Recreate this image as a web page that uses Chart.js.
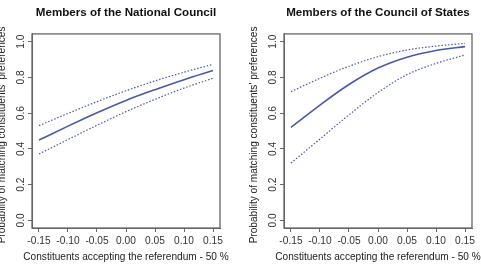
<!DOCTYPE html>
<html>
<head>
<meta charset="utf-8">
<script src="https://cdn.jsdelivr.net/npm/chart.js@4.4.1/dist/chart.umd.min.js"></script>
<style>
    html, body { margin: 0; padding: 0; background: #fff; overflow: hidden; }
    #wrap { position: relative; width: 481px; height: 265px; overflow: hidden; }
    canvas { position: absolute; top: 0; }
    #nc { left: -12px; }
    #cs { left: 240px; }
</style>
</head>
<body>
<div id="wrap">
    <canvas id="nc" width="241" height="265"></canvas>
    <canvas id="cs" width="241" height="265"></canvas>
</div>
<script>
(function () {
    'use strict';

    // x: constituents accepting the referendum minus 50 %
    const xVals = [-0.15, -0.10, -0.05, 0.00, 0.05, 0.10, 0.15];
    const xTicks = [-0.15, -0.10, -0.05, 0.00, 0.05, 0.10, 0.15];
    const yTicks = [0.0, 0.2, 0.4, 0.6, 0.8, 1.0];

    const xTitle = 'Constituents accepting the referendum - 50 %';
    const yTitle = "Probability of matching constituents' preferences";

    // National Council: predicted probability + bounds
    const ncMean = [0.449, 0.527, 0.602, 0.671, 0.731, 0.787, 0.838];
    const ncUpper = [0.53, 0.598, 0.664, 0.725, 0.78, 0.829, 0.873];
    const ncLower = [0.371, 0.452, 0.532, 0.608, 0.677, 0.74, 0.795];

    // Council of States
    const csMean = [0.52, 0.645, 0.76, 0.852, 0.913, 0.95, 0.972];
    const csUpper = [0.72, 0.795, 0.862, 0.916, 0.953, 0.975, 0.99];
    const csLower = [0.32, 0.455, 0.59, 0.715, 0.815, 0.878, 0.925];

    const font = "'Liberation Sans', Arial, Helvetica, sans-serif";
    const lineColor = '#4b58a8';
    const frameColor = '#666666';

    Chart.defaults.font.family = font;
    Chart.defaults.color = '#333333';

    // box round the plot + axis titles (scale titles get squeezed to the axis length)
    const frame = {
        id: 'frame',
        afterDraw(chart) {
            const a = chart.chartArea;
            const ctx = chart.ctx;
            ctx.save();
            ctx.strokeStyle = frameColor;
            ctx.lineWidth = 1.3;
            ctx.strokeRect(a.left, a.top, a.right - a.left, a.bottom - a.top);

            ctx.fillStyle = '#222222';
            ctx.font = '10.1px ' + font;
            ctx.textAlign = 'center';
            ctx.textBaseline = 'middle';
            ctx.fillText(xTitle, (a.left + a.right) / 2, 257.5);

            ctx.translate(14, (a.top + a.bottom) / 2 + 4);
            ctx.rotate(-Math.PI / 2);
            ctx.fillText(yTitle, 0, 0);
            ctx.restore();
        }
    };

    function points(ys) {
        return xVals.map((x, i) => ({ x, y: ys[i] }));
    }

    function band(label, ys) {
        return {
            label,
            data: points(ys),
            borderColor: lineColor,
            borderWidth: 1.2,
            borderDash: [1.5, 1.8],
            pointRadius: 0,
            cubicInterpolationMode: 'monotone',
            fill: false
        };
    }

    function makePanel(id, title, mean, upper, lower) {
        return new Chart(document.getElementById(id), {
            type: 'line',
            data: {
                datasets: [
                    {
                        label: 'Predicted',
                        data: points(mean),
                        borderColor: lineColor,
                        borderWidth: 1.6,
                        pointRadius: 0,
                        cubicInterpolationMode: 'monotone',
                        fill: false
                    },
                    band('Upper', upper),
                    band('Lower', lower)
                ]
            },
            plugins: [frame],
            options: {
                responsive: false,
                animation: false,
                layout: { padding: { left: 0, right: 9, top: 0, bottom: 0 } },
                plugins: {
                    legend: { display: false },
                    tooltip: { enabled: false },
                    title: {
                        display: true,
                        text: title,
                        fullSize: false,
                        color: '#111111',
                        font: { size: 11.6, weight: 'bold' },
                        padding: { top: 6, bottom: 14 }
                    }
                },
                scales: {
                    x: {
                        type: 'linear',
                        min: -0.162,
                        max: 0.162,
                        afterBuildTicks: (s) => { s.ticks = xTicks.map((v) => ({ value: v })); },
                        afterFit: (s) => { s.height = 37; },
                        grid: { drawOnChartArea: false, drawTicks: true, tickLength: 4, color: frameColor },
                        border: { display: true, color: frameColor },
                        ticks: {
                            font: { size: 10.2 },
                            color: '#333333',
                            padding: 3,
                            maxRotation: 0,
                            callback: (v) => Number(v).toFixed(2)
                        }
                    },
                    y: {
                        min: -0.043,
                        max: 1.043,
                        afterBuildTicks: (s) => { s.ticks = yTicks.map((v) => ({ value: v })); },
                        afterFit: (s) => { s.width = 44; },
                        grid: { drawOnChartArea: false, drawTicks: true, tickLength: 4, color: frameColor },
                        border: { display: true, color: frameColor },
                        ticks: {
                            font: { size: 10.2 },
                            color: '#333333',
                            padding: 0,
                            minRotation: 90,
                            maxRotation: 90,
                            crossAlign: 'center',
                            callback: (v) => Number(v).toFixed(1)
                        }
                    }
                }
            }
        });
    }

    makePanel('nc', 'Members of the National Council', ncMean, ncUpper, ncLower);
    makePanel('cs', 'Members of the Council of States', csMean, csUpper, csLower);
})();
</script>
</body>
</html>
